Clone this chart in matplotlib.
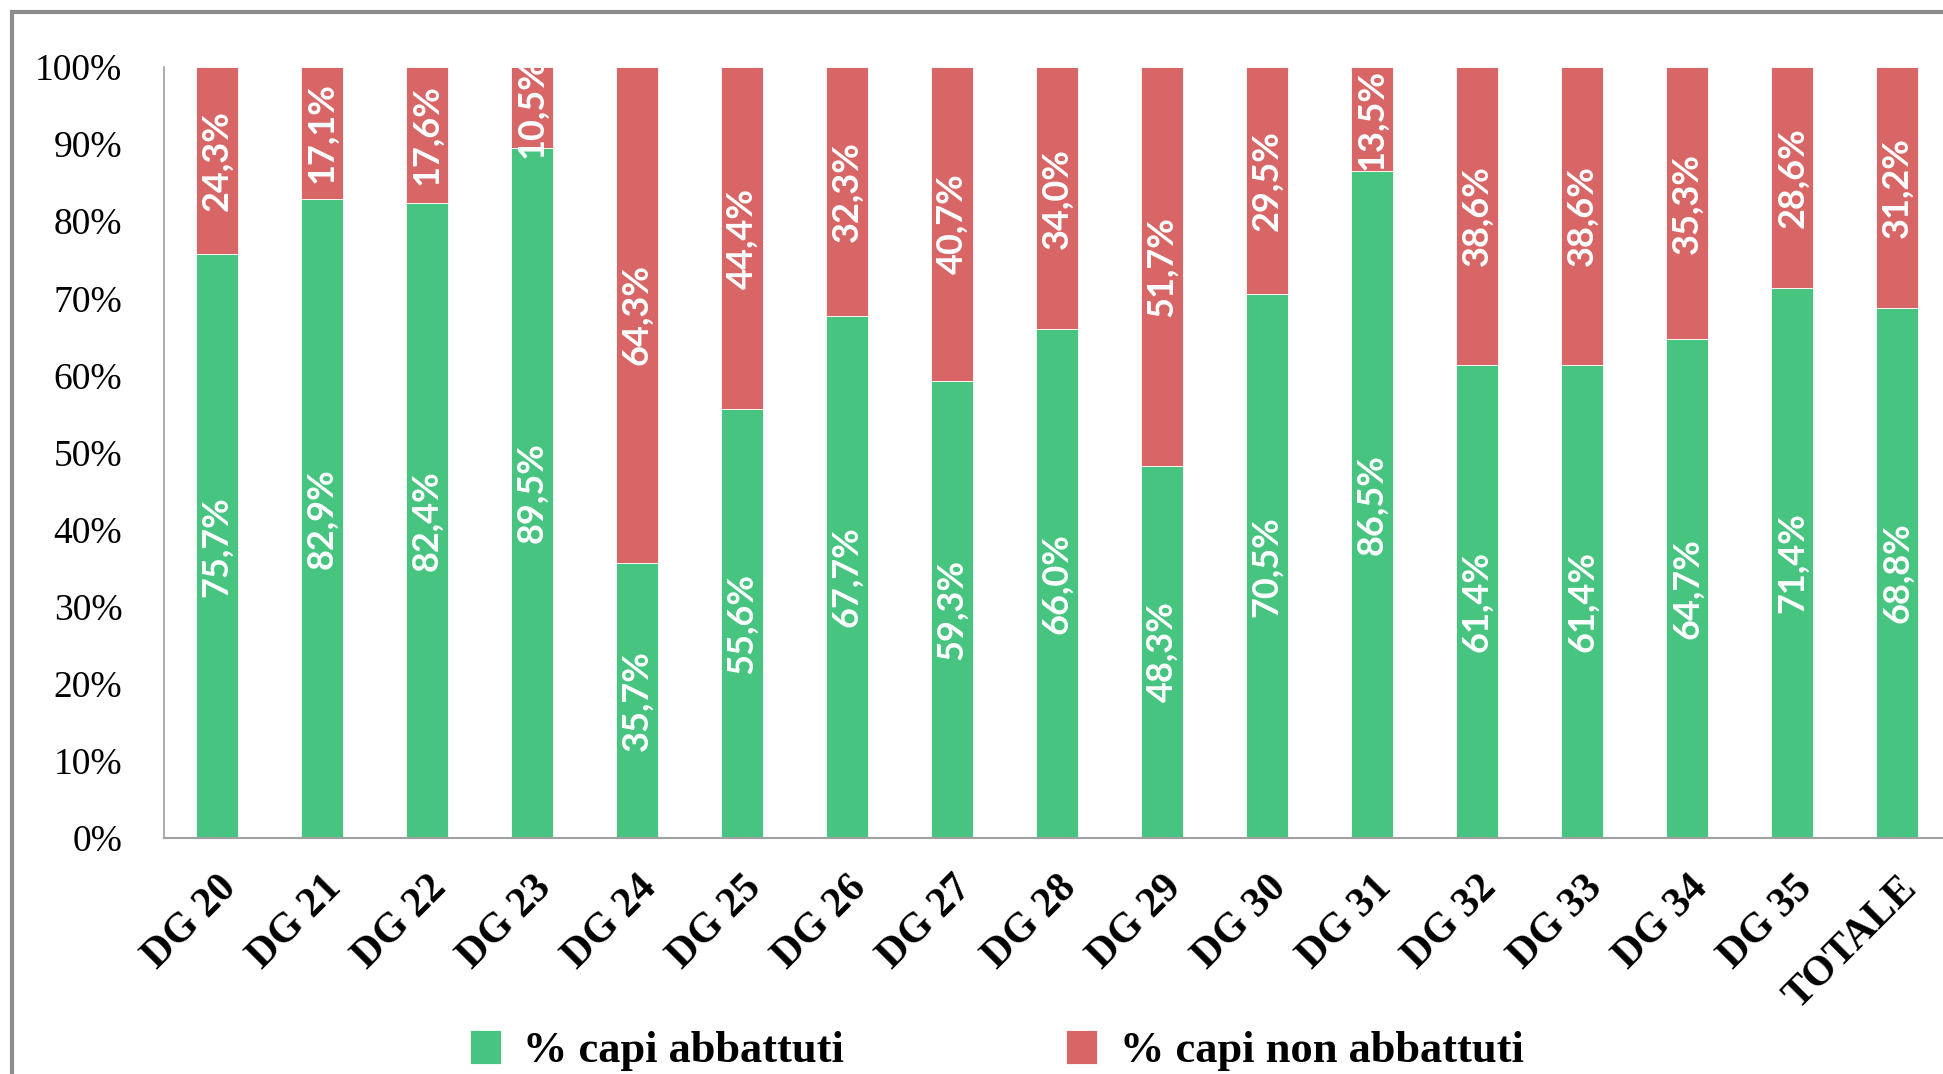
import matplotlib
matplotlib.use("Agg")
import matplotlib.pyplot as plt
import matplotlib.transforms as mtransforms
from matplotlib.patches import Rectangle
import numpy as np

# data
categories = ['DG 20', 'DG 21', 'DG 22', 'DG 23', 'DG 24', 'DG 25', 'DG 26', 'DG 27', 'DG 28',
              'DG 29', 'DG 30', 'DG 31', 'DG 32', 'DG 33', 'DG 34', 'DG 35', 'TOTALE']
abbattuti = [75.7, 82.9, 82.4, 89.5, 35.7, 55.6, 67.7, 59.3, 66.0, 48.3, 70.5, 86.5, 61.4, 61.4, 64.7, 71.4, 68.8]
non_abbattuti = [24.3, 17.1, 17.6, 10.5, 64.3, 44.4, 32.3, 40.7, 34.0, 51.7, 29.5, 13.5, 38.6, 38.6, 35.3, 28.6, 31.2]
series_names = ['% capi abbattuti', '% capi non abbattuti']
yticks = [0, 10, 20, 30, 40, 50, 60, 70, 80, 90, 100]

GREEN = '#47C47F'
RED = '#D96666'
SERIF = 'Liberation Serif'
SANS = 'Lato'

fig = plt.figure(figsize=(19.43, 10.74), dpi=100)
ax = fig.add_axes([0.0844, 0.2197, 0.9192, 0.7179])

# outer chart frame (runs off the right and bottom edges like the screenshot)
fig.patches.append(Rectangle((0.006, -0.1), 1.2, 1.089, transform=fig.transFigure,
                             fill=False, edgecolor='#8c8c8c', linewidth=3, zorder=0))

x = np.arange(len(categories))
b1 = ax.bar(x, abbattuti, width=0.4, color=GREEN, edgecolor='white', linewidth=0.6,
            label=series_names[0])
b2 = ax.bar(x, non_abbattuti, width=0.4, bottom=abbattuti, color=RED, edgecolor='white',
            linewidth=0.6, label=series_names[1])

def fmt(v):
    return ('%.1f%%' % v).replace('.', ',')

for i in range(len(categories)):
    ax.text(x[i], abbattuti[i] / 2, fmt(abbattuti[i]), rotation=90, ha='center', va='center',
            color='white', fontsize=26, fontweight='bold', family=SANS)
    ax.text(x[i], abbattuti[i] + non_abbattuti[i] / 2, fmt(non_abbattuti[i]), rotation=90,
            ha='center', va='center', color='white', fontsize=26, fontweight='bold', family=SANS)

ax.set_xlim(-0.5, len(categories) - 0.5)
ax.set_ylim(0, 100)
ax.set_yticks(yticks)
ax.set_yticklabels(['%d%%' % t for t in yticks], family=SERIF, fontsize=27)
ax.tick_params(axis='y', length=0, pad=30)
ax.set_xticks(x)
ax.set_xticklabels(categories, rotation=45, ha='right', va='center', rotation_mode='anchor',
                   family=SERIF, fontsize=30, fontweight='bold')
ax.tick_params(axis='x', length=0, pad=32)
# nudge the slanted labels a little to the right
shift = mtransforms.ScaledTranslation(10 / 72, 0, fig.dpi_scale_trans)
for lbl in ax.get_xticklabels():
    lbl.set_transform(lbl.get_transform() + shift)

for s in ['top', 'right']:
    ax.spines[s].set_visible(False)
ax.spines['left'].set_color('#a0a0a0')
ax.spines['bottom'].set_color('#a0a0a0')
ax.spines['left'].set_linewidth(1.2)
ax.spines['bottom'].set_linewidth(1.5)

fig.legend(handles=[b1, b2], labels=series_names, loc='center', bbox_to_anchor=(0.513, 0.022),
           ncol=2, frameon=False, prop={'family': SERIF, 'size': 32, 'weight': 'bold'},
           handlelength=0.7, handleheight=0.8, handletextpad=0.5, columnspacing=5.0)

fig.savefig('out.png', dpi=100)
